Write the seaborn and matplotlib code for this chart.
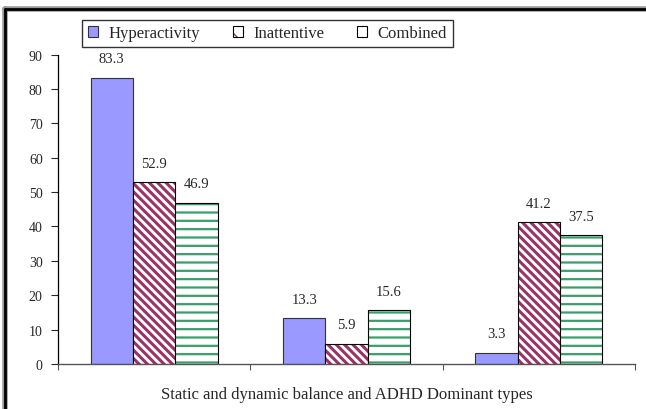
import pandas as pd
import seaborn as sns
import matplotlib.pyplot as plt
from matplotlib.lines import Line2D
from matplotlib.patches import Patch
from matplotlib.legend_handler import HandlerTuple
from matplotlib.colors import to_rgba

# Datos
grupos = ["G1", "G2", "G3"]
series = ["Hyperactivity", "Inattentive", "Combined"]
hyper = [83.3, 13.3, 3.3]
inatt = [52.9, 5.9, 41.2]
combi = [46.9, 15.6, 37.5]
xlabel = "Static and dynamic balance and ADHD Dominant types"
yticks = [0, 10, 20, 30, 40, 50, 60, 70, 80, 90]

df = pd.DataFrame({
    "Grupo": grupos * 3,
    "Tipo": [series[0]] * 3 + [series[1]] * 3 + [series[2]] * 3,
    "Valor": hyper + inatt + combi,
})

sns.set_theme(style="white")
plt.rcParams["font.family"] = ["Liberation Serif", "DejaVu Serif"]

fig = plt.figure(figsize=(6.46, 4.10), dpi=100)
ax = fig.add_axes([0.0898, 0.1098, 0.8932, 0.7546])

paleta = {"Hyperactivity": "#9999FF", "Inattentive": "white", "Combined": "white"}
sns.barplot(data=df, x="Grupo", y="Valor", hue="Tipo", hue_order=series,
            order=grupos, palette=paleta, width=0.66, saturation=1,
            edgecolor="black", linewidth=0.8, legend=False, ax=ax)

# Tramas: rayas diagonales granate y horizontales verdes
estilos = {
    1: ("\\\\\\\\", "#993366", 2.2),
    2: ("--", "#3A9E6A", 1.6),
}
for i, cont in enumerate(ax.containers):
    for p in cont.patches:
        if i in estilos:
            h, c, lw = estilos[i]
            p.set_hatch(h)
            p.set_edgecolor("black")
            p._hatch_color = to_rgba(c)
            if hasattr(p, "set_hatch_linewidth"):
                p.set_hatch_linewidth(lw)
        else:
            p.set_edgecolor("#333333")
    ax.bar_label(cont, fmt="%.1f", padding=9, fontsize=10.5)

ax.set_ylim(0, 90)
ax.set_xlim(-0.5, 2.5)
ax.set_yticks(yticks)
ax.set_xticks([-0.5, 0.5, 1.5, 2.5])
ax.set_xticklabels([])
ax.tick_params(axis="y", direction="out", length=5, width=0.8, labelsize=10, pad=6, left=True)
ax.tick_params(axis="x", direction="out", length=4, width=0.8, bottom=True, colors="#555555")
ax.set_xlabel(xlabel, fontsize=12, labelpad=8)
ax.set_ylabel("")
sns.despine(ax=ax, top=True, right=True)
ax.spines["left"].set_color("black")
ax.spines["left"].set_linewidth(0.9)
ax.spines["bottom"].set_color("#555555")
ax.spines["bottom"].set_linewidth(1.0)

# Leyenda
handles = [Patch(facecolor="#9999FF", edgecolor="#333333", linewidth=0.8)]
for i in (1, 2):
    h, c, lw = estilos[i]
    trama = Patch(facecolor="white", edgecolor=c, linewidth=0, hatch=h[:len(h) // 2])
    borde = Patch(facecolor="none", edgecolor="black", linewidth=0.8)
    handles.append((trama, borde))
leg = fig.legend(handles, series, loc="center", bbox_to_anchor=(0.414, 0.916),
                 ncol=3, fontsize=12, frameon=True, fancybox=False,
                 edgecolor="black", handlelength=0.6, handleheight=0.6,
                 handletextpad=0.6, columnspacing=2.0, borderpad=0.35,
                 handler_map={tuple: HandlerTuple(ndivide=1, pad=0)})
leg.get_frame().set_linewidth(1.0)

# Marco exterior recortado
xl, yt = 5 / 646, 1 - 10 / 410
for lw, col in [(4.0, "#999999"), (2.0, "black")]:
    fig.add_artist(Line2D([xl, xl], [0, yt], transform=fig.transFigure, color=col, lw=lw))
    fig.add_artist(Line2D([xl, 1], [yt, yt], transform=fig.transFigure, color=col, lw=lw))

fig.savefig("out.png", dpi=100)
